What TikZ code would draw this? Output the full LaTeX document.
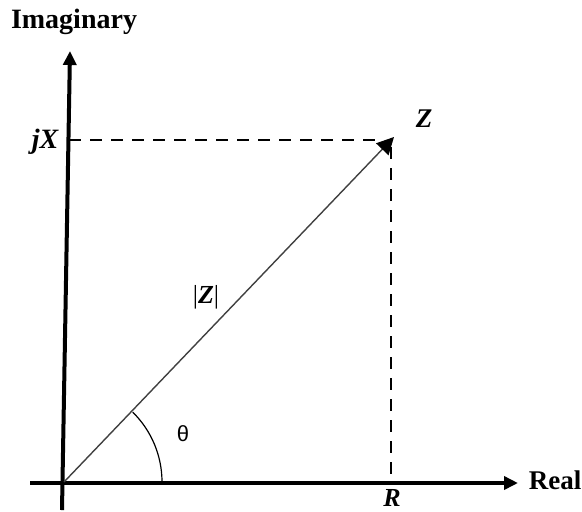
\documentclass[tikz,border=0pt]{standalone}
\usepackage{fontspec}
\setmainfont{Liberation Serif}
\newfontfamily\sansf{Liberation Sans}
\usetikzlibrary{arrows.meta}
\begin{document}
\begin{tikzpicture}[x=0.5pt,y=0.5pt,
  axis/.style={line width=2pt,-{Triangle[length=7pt,width=6.5pt]}},
  guide/.style={line width=1.4pt,dash pattern=on 6pt off 4.5pt},
  vec/.style={line width=0.7pt,draw=black!75,-{Triangle[length=8.5pt,width=8.5pt,fill=black,color=black]}},
  lab/.style={inner sep=0pt,font=\fontsize{13}{15}\selectfont}]
\useasboundingbox (0,0) rectangle (582,511);
% coordinates (pixel x, 511 - pixel y)
\coordinate (O) at (64,29);
\coordinate (ybot) at (62,1);
\coordinate (ytop) at (70,460);
\coordinate (xleft) at (30,28);
\coordinate (xright) at (518,28);
\coordinate (Z) at (394,374);
\coordinate (JX) at (69,371);
\coordinate (R) at (391,28);
% axes
\draw[axis] (ybot) -- (ytop);
\draw[axis] (xleft) -- (xright);
% dashed guides
\draw[guide] (JX) -- (384,371);
\draw[guide] (391,364) -- (R);
% vector
\draw[vec] (O) -- (Z);
% angle arc
\draw[line width=0.6pt] (162,29) arc[start angle=0,end angle=45.5,radius=98];
% labels
\node[lab,font=\bfseries\fontsize{14}{16}\selectfont] (imag) at (74,489) {Imaginary};
\node[lab,font=\bfseries\fontsize{13.5}{16}\selectfont] (real) at (555,31) {Real};
\node[lab,font=\bfseries\itshape\fontsize{14}{16}\selectfont] (jx) at (45,369) {jX};
\node[lab,font=\bfseries\itshape\fontsize{13.5}{16}\selectfont] (zl) at (424,392) {Z};
\node[lab] (absz) at (206,214) {|\textbf{\textit{Z}}|};
\node[lab,font=\sansf\fontsize{11}{13}\selectfont] (th) at (183,77) {θ};
\node[lab,font=\bfseries\itshape\fontsize{13}{15}\selectfont] (rl) at (392,13) {R};
\end{tikzpicture}
\end{document}
